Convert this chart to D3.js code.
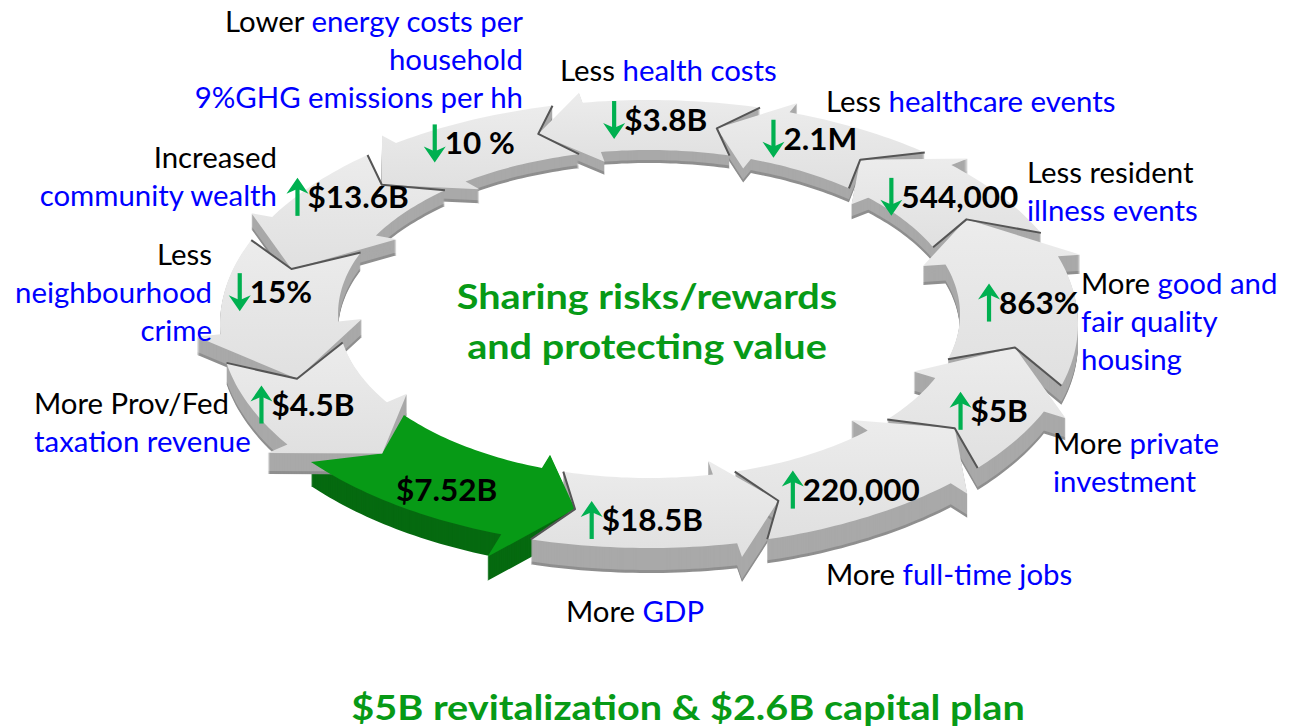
<!DOCTYPE html>
<html>
<head>
<meta charset="utf-8">
<script src="https://cdn.jsdelivr.net/npm/d3@7"></script>
<style>
  body { margin: 0; background: #fff; }
  svg { display: block; font-family: Lato, 'Open Sans', sans-serif; }
</style>
</head>
<body>
<div id="chart"></div>
<script>
// ring values in flow order, starting with the green investment arrow
const values = ['$7.52B', '$18.5B', '220,000', '$5B', '863%', '544,000', '2.1M', '$3.8B', '10 %', '$13.6B', '15%', '$4.5B'];
const trend = [null, 'up', 'up', 'up', 'up', 'down', 'down', 'down', 'down', 'up', 'down', 'up'];
const highlight = [true, false, false, false, false, false, false, false, false, false, false, false];

// outcome notes, one per arrow (k = black, b = blue)
const notes = [
  [],
  [[['More ', 'k'], ['GDP', 'b']]],
  [[['More ', 'k'], ['full-time jobs', 'b']]],
  [[['More ', 'k'], ['private', 'b']], [['investment', 'b']]],
  [[['More ', 'k'], ['good and', 'b']], [['fair quality', 'b']], [['housing', 'b']]],
  [[['Less resident', 'k']], [['illness events', 'b']]],
  [[['Less ', 'k'], ['healthcare events', 'b']]],
  [[['Less ', 'k'], ['health costs', 'b']]],
  [[['Lower ', 'k'], ['energy costs per', 'b']], [['household', 'b']], [['9%GHG emissions per hh', 'b']]],
  [[['Increased', 'k']], [['community wealth', 'b']]],
  [[['Less', 'k']], [['neighbourhood', 'b']], [['crime', 'b']]],
  [[['More Prov/Fed', 'k']], [['taxation revenue', 'b']]]
];

const centerTitle = ['Sharing risks/rewards', 'and protecting value'];
const bottomTitle = '$5B revitalization & $2.6B capital plan';

// ---- layout ----
const W = 1294, H = 728;
// tail angle of each arrow on the ellipse (degrees, flow runs toward smaller angles)
const tailAngle = [142, 106, 74, 40, 16, -24, -50, -75, -103, -131, -158, -190];
const labelAngle = [122, 91, 58, 27, -5, -38, -65, -89, -118, -142, -172, -205];
// where each note block sits
const notePos = [
  null,
  {x: 566, y: 622, a: 'start'},
  {x: 826, y: 585, a: 'start'},
  {x: 1053, y: 454, a: 'start'},
  {x: 1081, y: 294, a: 'start'},
  {x: 1027, y: 183, a: 'start'},
  {x: 826, y: 112, a: 'start'},
  {x: 560, y: 81, a: 'start'},
  {x: 523, y: 32, a: 'end'},
  {x: 277, y: 168, a: 'end'},
  {x: 212, y: 265, a: 'end'},
  {x: 34, y: 414, a: 'start'}
];

const colors = {k: '#000', b: '#0000ff', green: '#079a16', arrow: '#00b050'};

const svg = d3.select('#chart').append('svg').attr('width', W).attr('height', H);

// ellipse scales: t = 0 inner edge, t = 1 outer edge
const cx = 649;
const rx = d3.scaleLinear([0, 1], [311, 429]);
const ry = d3.scaleLinear([0, 1], [164, 224]);
const cy = d3.scaleLinear([0, 1], [314, 324]);
const rad = d3.scaleLinear([0, 180], [0, Math.PI]);

const P = (a, t) => [cx + rx(t) * Math.cos(rad(a)), cy(t) + ry(t) * Math.sin(rad(a))];
// pixels per degree along the centre line
const speed = a => Math.hypot(rx(0.5) * Math.sin(rad(a)), ry(0.5) * Math.cos(rad(a))) * Math.PI / 180;

const NOTCH = 28, BARB = 26, E = 0.2;

function arrowPts(i) {
  const a0 = tailAngle[i];
  const a1 = i + 1 < tailAngle.length ? tailAngle[i + 1] : tailAngle[0] - 360;
  const nd0 = NOTCH / speed(a0), nd1 = NOTCH / speed(a1), hb = BARB / speed(a1);
  const eo = highlight[i] ? 0.34 : E;
  const pts = [P(a0, 1), P(a0 - nd0, 0.5), P(a0, 0)];
  for (let a = a0; a > a1 + hb; a -= 1) pts.push(P(a, 0));
  pts.push(P(a1 + hb, 0), P(a1 + hb, -E), P(a1 - nd1, 0.5), P(a1 + hb, 1 + eo), P(a1 + hb, 1));
  for (let a = a1 + hb; a < a0; a += 1) pts.push(P(a, 1));
  return pts;
}
const line = d3.line().curve(d3.curveLinearClosed);

const segs = d3.range(values.length).map(i => {
  const a0 = tailAngle[i];
  const a1 = i + 1 < tailAngle.length ? tailAngle[i + 1] : tailAngle[0] - 360;
  const mid = (a0 + a1) / 2;
  return {i, pts: arrowPts(i), depth: Math.round(19 + 6 * Math.sin(rad(mid))), hi: highlight[i]};
});

const ring = svg.append('g').attr('class', 'ring');

// sides: stacked copies pushed downward
const sides = ring.append('g').attr('class', 'sides');
segs.forEach(s => {
  sides.append('g').selectAll('path').data(d3.range(s.depth, 0, -1)).join('path')
    .attr('d', line(s.pts))
    .attr('transform', k => `translate(0,${k})`)
    .attr('fill', s.hi ? '#066a10' : (k => k > s.depth - 3 ? '#8f8f8f' : '#a9a9a9'));
});

// top faces
const grad = svg.append('defs').append('linearGradient').attr('id', 'topg')
  .attr('x1', 0).attr('y1', 0).attr('x2', 0).attr('y2', 1);
grad.append('stop').attr('offset', '0%').attr('stop-color', '#ececec');
grad.append('stop').attr('offset', '100%').attr('stop-color', '#e0e0e0');

ring.append('g').attr('class', 'tops').selectAll('path').data(segs).join('path')
  .attr('d', d => line(d.pts))
  .attr('fill', d => d.hi ? colors.green : 'url(#topg)');

// creases at the tail notches
ring.append('g').attr('class', 'creases').selectAll('path').data(segs.filter(d => !d.hi)).join('path')
  .attr('d', d => d3.line()(d.pts.slice(0, 3)))
  .attr('fill', 'none').attr('stroke', '#555').attr('stroke-width', 2)
  .attr('stroke-linejoin', 'round');

// value labels with trend arrows
const lab = ring.append('g').attr('class', 'labels').selectAll('g').data(segs).join('g')
  .attr('transform', d => `translate(${P(labelAngle[d.i], 0.6)})`);

const SX = 1.05; // horizontal stretch of the original lettering

lab.each(function(d) {
  const g = d3.select(this);
  const txt = g.append('text').style('font-size', '30px').style('font-weight', 700)
    .attr('fill', '#000').text(values[d.i]);
  const tw = txt.node().getComputedTextLength() * SX;
  const dir = trend[d.i];
  const aw = dir ? 20 : 0;
  const left = -(tw + aw) / 2;
  txt.attr('transform', `translate(${left + aw},11) scale(${SX},1)`);
  if (dir) {
    const ax = left + 10;
    const top = -19, bot = 19;
    const up = dir === 'up';
    const tip = up ? top : bot, base = up ? bot : top;
    const hh = up ? 16 : -16;
    g.append('line').attr('x1', ax).attr('x2', ax).attr('y1', base).attr('y2', tip + hh * 0.6)
      .attr('stroke', colors.arrow).attr('stroke-width', 4.2);
    g.append('path').attr('d', `M${ax - 11},${tip + hh} L${ax},${tip} L${ax + 11},${tip + hh} L${ax + 2},${tip + hh * 0.75} L${ax - 2},${tip + hh * 0.75} Z`)
      .attr('fill', colors.arrow);
  }
});

// outcome notes
const noteG = svg.append('g').attr('class', 'notes').style('font-size', '28px');
notes.forEach((lines, i) => {
  const p = notePos[i];
  if (!p) return;
  lines.forEach((parts, j) => {
    const t = noteG.append('text').attr('text-anchor', p.a)
      .attr('transform', `translate(${p.x},${p.y + j * 38}) scale(${SX},1)`);
    t.selectAll('tspan').data(parts).join('tspan')
      .attr('fill', d => colors[d[1]])
      .text(d => d[0]);
  });
});

// titles, stretched like the original bold lettering
const TX = 1.165;
svg.append('g').selectAll('text').data(centerTitle).join('text')
  .attr('transform', (d, i) => `translate(647,${309 + i * 50}) scale(${TX},1)`)
  .attr('text-anchor', 'middle').style('font-size', '34px').style('font-weight', 700)
  .attr('fill', colors.green).text(d => d);

svg.append('text').attr('transform', `translate(688,720) scale(${TX},1)`).attr('text-anchor', 'middle')
  .style('font-size', '34px').style('font-weight', 700).attr('fill', colors.green)
  .text(bottomTitle);
</script>
</body>
</html>
